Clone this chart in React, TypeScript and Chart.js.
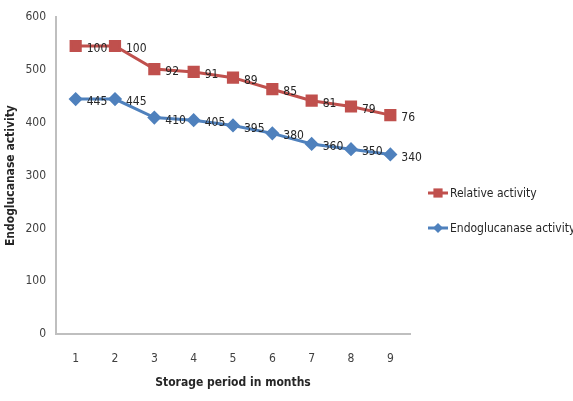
import React, { useEffect, useRef } from "react";
import { Chart, registerables } from "chart.js";

Chart.register(...registerables);

const months = ["1", "2", "3", "4", "5", "6", "7", "8", "9"];
const relativeActivity = [100, 100, 92, 91, 89, 85, 81, 79, 76];
const endoglucanaseActivity = [445, 445, 410, 405, 395, 380, 360, 350, 340];
const yTicks = [0, 100, 200, 300, 400, 500, 600];

const FONT = "'Liberation Sans Narrow', 'DejaVu Sans Condensed', sans-serif";
const RED = "#C0504D";
const BLUE = "#4F81BD";
const TEXT = "#404040";

function drawMarker(ctx: CanvasRenderingContext2D, style: string, r: number, x: number, y: number, color: string) {
  ctx.fillStyle = color;
  ctx.beginPath();
  if (style === "rect") {
    const s = Math.SQRT1_2 * r;
    ctx.rect(x - s, y - s, 2 * s, 2 * s);
  } else {
    ctx.moveTo(x, y - r);
    ctx.lineTo(x + r, y);
    ctx.lineTo(x, y + r);
    ctx.lineTo(x - r, y);
    ctx.closePath();
  }
  ctx.fill();
}

// value labels to the right of each point, plus a legend drawn beside the plot
const annotate = {
  id: "annotate",
  afterDatasetsDraw(chart: any) {
    const ctx = chart.ctx;
    ctx.save();
    ctx.font = `12px ${FONT}`;
    ctx.fillStyle = "#262626";
    ctx.textBaseline = "middle";
    ctx.textAlign = "left";
    chart.data.datasets.forEach((ds: any, i: number) => {
      const meta = chart.getDatasetMeta(i);
      meta.data.forEach((pt: any, j: number) => {
        ctx.fillText(String(ds.data[j]), pt.x + 11, pt.y + 3);
      });
    });

    const items = [
      { label: "Relative activity", color: RED, style: "rect", r: 6.5 },
      { label: "Endoglucanase activity", color: BLUE, style: "rectRot", r: 5 },
    ];
    const x0 = chart.chartArea.right + 18;
    items.forEach((it, k) => {
      const y = 193 + k * 35;
      ctx.strokeStyle = it.color;
      ctx.lineWidth = 3;
      ctx.beginPath();
      ctx.moveTo(x0, y);
      ctx.lineTo(x0 + 20, y);
      ctx.stroke();
      drawMarker(ctx, it.style, it.r, x0 + 10, y, it.color);
      ctx.fillStyle = "#262626";
      ctx.font = `12px ${FONT}`;
      ctx.fillText(it.label, x0 + 22, y + 1);
    });
    ctx.restore();
  },
};

export default function App() {
  const ref = useRef<HTMLCanvasElement>(null);

  useEffect(() => {
    if (!ref.current) return;
    const chart = new Chart(ref.current, {
      type: "line",
      data: {
        labels: months,
        datasets: [
          {
            label: "Relative activity",
            data: relativeActivity,
            yAxisID: "yRel",
            borderColor: RED,
            backgroundColor: RED,
            borderWidth: 3,
            pointStyle: "rect",
            pointRadius: 6.5,
            pointHoverRadius: 6.5,
            tension: 0,
          },
          {
            label: "Endoglucanase activity",
            data: endoglucanaseActivity,
            yAxisID: "y",
            borderColor: BLUE,
            backgroundColor: BLUE,
            borderWidth: 3,
            pointStyle: "rectRot",
            pointRadius: 5,
            pointHoverRadius: 5,
            tension: 0,
          },
        ],
      },
      options: {
        animation: false,
        responsive: false,
        events: [],
        layout: { padding: { top: 17, right: 163, left: 0, bottom: 0 } },
        plugins: {
          legend: { display: false },
          tooltip: { enabled: false },
        },
        scales: {
          x: {
            offset: true,
            grid: { display: false, drawTicks: false },
            border: { color: "#BFBFBF", width: 2 },
            ticks: { color: TEXT, font: { family: FONT, size: 12 }, padding: 18 },
            title: {
              display: true,
              text: "Storage period in months",
              color: "#262626",
              font: { family: FONT, size: 12, weight: "bold" },
              padding: { top: 5, bottom: 11 },
            },
            afterFit(scale: any) {
              scale.height = 67;
            },
          },
          y: {
            min: 0,
            max: 600,
            afterBuildTicks(scale: any) {
              scale.ticks = yTicks.map((v) => ({ value: v }));
            },
            grid: { display: false, drawTicks: false },
            border: { color: "#BFBFBF", width: 2 },
            ticks: { color: TEXT, font: { family: FONT, size: 12 }, padding: 10 },
            title: {
              display: true,
              text: "Endoglucanase activity",
              color: "#262626",
              font: { family: FONT, size: 12, weight: "bold" },
              padding: { bottom: 6 },
            },
            afterFit(scale: any) {
              scale.width = 56;
            },
          },
          yRel: {
            display: false,
            min: 0,
            max: 110,
          },
        },
      },
      plugins: [annotate],
    } as any);
    return () => chart.destroy();
  }, []);

  return (
    <div style={{ position: "fixed", left: 0, top: 0, width: 573, height: 401, background: "#fff" }}>
      <canvas ref={ref} width={573} height={401} />
    </div>
  );
}
